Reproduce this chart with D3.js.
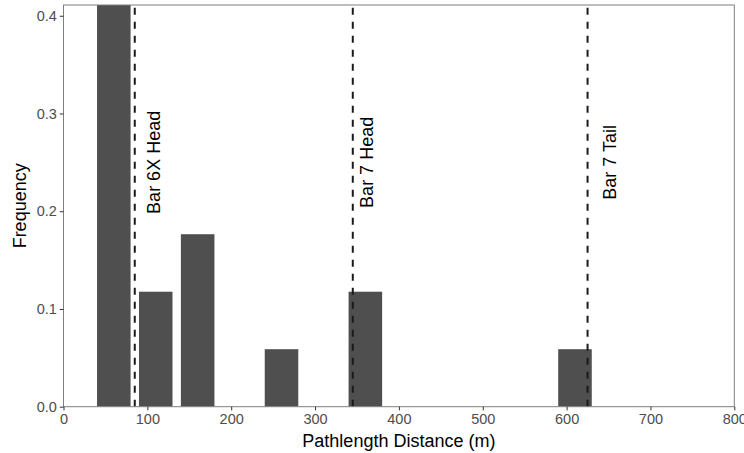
<!DOCTYPE html>
<html>
<head>
<meta charset="utf-8">
<script src="https://cdn.jsdelivr.net/npm/d3@7"></script>
<style>
  html, body { margin: 0; padding: 0; background: #fff; }
  svg { display: block; font-family: "Liberation Sans", Arial, Helvetica, sans-serif; }
</style>
</head>
<body>
<svg id="chart" width="744" height="453"></svg>
<script>
// Histogram of pathlength distances (bin centres in metres, frequency per bin)
const binCenters = [60, 110, 160, 260, 360, 610];
const frequencies = [8 / 17, 2 / 17, 3 / 17, 1 / 17, 2 / 17, 1 / 17];
const binWidth = 40;

// Reference positions marked with dashed lines
const markerNames = ["Bar 6X Head", "Bar 7 Head", "Bar 7 Tail"];
const markerX = [85, 345, 625];
const markerLabelX = [107, 361, 651];
const markerLabelY = 0.25;

const xTicks = [0, 100, 200, 300, 400, 500, 600, 700, 800];
const yTicks = [0, 0.1, 0.2, 0.3, 0.4];

const svg = d3.select("#chart");
const panel = { left: 63.5, right: 734.3, top: 5, bottom: 406.7 };

const x = d3.scaleLinear().domain([0, 800]).range([panel.left, panel.right]);
const y = d3.scaleLinear().domain([0, 0.411]).range([panel.bottom, panel.top]);

svg.append("defs").append("clipPath").attr("id", "panel-clip")
  .append("rect")
  .attr("x", panel.left).attr("y", panel.top)
  .attr("width", panel.right - panel.left)
  .attr("height", panel.bottom - panel.top);

const plot = svg.append("g").attr("clip-path", "url(#panel-clip)");

// bars
plot.selectAll("rect.bar")
  .data(binCenters.map((c, i) => ({ c, f: frequencies[i] })))
  .join("rect")
  .attr("class", "bar")
  .attr("x", d => x(d.c - binWidth / 2))
  .attr("width", d => x(d.c + binWidth / 2) - x(d.c - binWidth / 2))
  .attr("y", d => y(d.f))
  .attr("height", d => y(0) - y(d.f))
  .attr("fill", "#4f4f4f");

// dashed marker lines, drawn upward from the baseline
plot.selectAll("line.marker")
  .data(markerX)
  .join("line")
  .attr("class", "marker")
  .attr("x1", d => x(d)).attr("x2", d => x(d))
  .attr("y1", panel.bottom).attr("y2", panel.top)
  .attr("stroke", "#1a1a1a")
  .attr("stroke-width", 2)
  .attr("stroke-dasharray", "7,7");

// marker labels, rotated
plot.selectAll("text.marker-label")
  .data(markerNames.map((n, i) => ({ n, xv: markerLabelX[i] })))
  .join("text")
  .attr("class", "marker-label")
  .attr("transform", d => `translate(${x(d.xv)},${y(markerLabelY)}) rotate(-90)`)
  .attr("text-anchor", "middle")
  .attr("dy", "0.358em")
  .attr("font-size", "18px")
  .attr("fill", "#000")
  .text(d => d.n);

// panel border
svg.append("rect")
  .attr("x", panel.left).attr("y", panel.top)
  .attr("width", panel.right - panel.left)
  .attr("height", panel.bottom - panel.top)
  .attr("fill", "none")
  .attr("stroke", "#7f7f7f")
  .attr("stroke-width", 1);

// axes
const xAxis = d3.axisBottom(x).tickValues(xTicks).tickSize(3.7).tickPadding(3).tickFormat(d3.format("d"));
const yAxis = d3.axisLeft(y).tickValues(yTicks).tickSize(3.7).tickPadding(3).tickFormat(d3.format(".1f"));

const gx = svg.append("g").attr("transform", `translate(0,${panel.bottom})`).call(xAxis);
const gy = svg.append("g").attr("transform", `translate(${panel.left},0)`).call(yAxis);

[gx, gy].forEach(g => {
  g.select(".domain").remove();
  g.selectAll(".tick line").attr("stroke", "#333").attr("stroke-width", 1);
  g.selectAll(".tick text")
    .attr("fill", "#4d4d4d")
    .attr("font-size", "14.5px")
    .attr("font-family", "Liberation Sans, Arial, sans-serif");
});

// axis titles
svg.append("text")
  .attr("x", (panel.left + panel.right) / 2)
  .attr("y", 447)
  .attr("text-anchor", "middle")
  .attr("font-size", "18px")
  .attr("fill", "#000")
  .text("Pathlength Distance (m)");

svg.append("text")
  .attr("transform", `translate(26,${(panel.top + panel.bottom) / 2}) rotate(-90)`)
  .attr("text-anchor", "middle")
  .attr("font-size", "18px")
  .attr("fill", "#000")
  .text("Frequency");
</script>
</body>
</html>
